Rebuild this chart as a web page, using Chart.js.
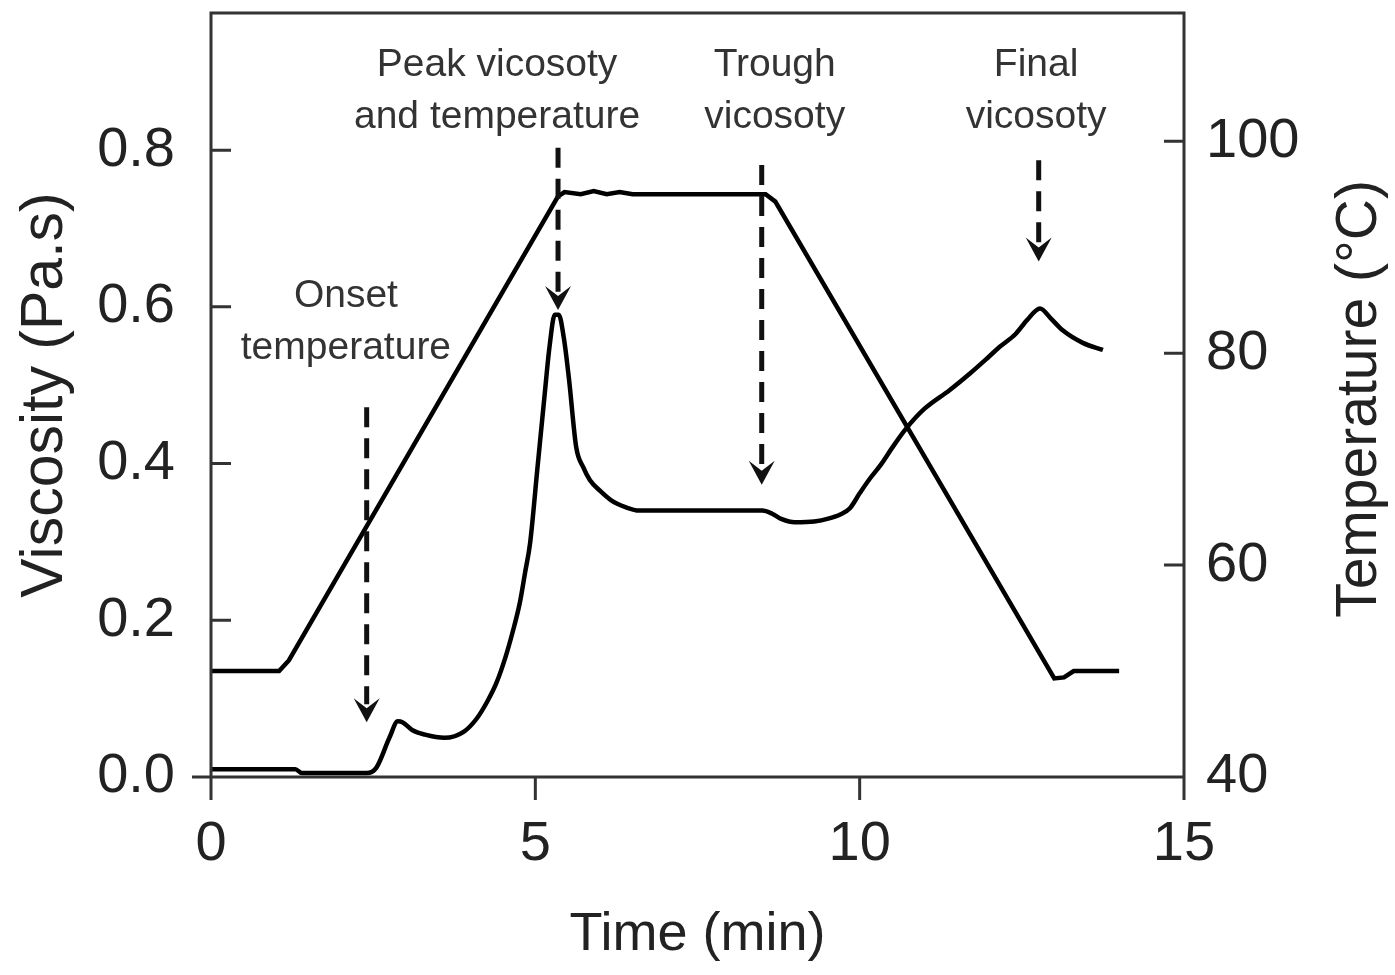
<!DOCTYPE html>
<html>
<head>
<meta charset="utf-8">
<script src="https://cdn.jsdelivr.net/npm/chart.js@4.4.1/dist/chart.umd.min.js"></script>
<style>
  html, body { margin: 0; padding: 0; background: #fff; }
  #wrap { width: 1395px; height: 975px; }
</style>
</head>
<body>
<div id="wrap"><canvas id="myChart"></canvas></div>
<script>
// viscosity curve (Pa.s) against time (min)
let timeV = [0, 1.3, 1.4, 2.4, 2.55, 2.75, 2.88, 2.95, 3.1, 3.3, 3.6, 3.9, 4.1, 4.27, 4.4, 4.54, 4.65, 4.76, 4.84, 4.92, 5.03, 5.14, 5.22, 5.3, 5.36, 5.44, 5.52, 5.63, 5.74, 5.84, 6.0, 6.17, 6.4, 6.6, 7.5, 8.5, 8.65, 8.8, 9.0, 9.3, 9.53, 9.7, 9.85, 10.0, 10.15, 10.33, 10.5, 10.7, 11.0, 11.39, 11.7, 12.0, 12.16, 12.4, 12.58, 12.78, 12.95, 13.13, 13.44, 13.75];
let viscosity = [0.010, 0.010, 0.005, 0.005, 0.012, 0.050, 0.071, 0.070, 0.060, 0.054, 0.050, 0.058, 0.075, 0.098, 0.120, 0.153, 0.185, 0.222, 0.260, 0.299, 0.392, 0.485, 0.550, 0.590, 0.590, 0.560, 0.507, 0.421, 0.395, 0.379, 0.365, 0.353, 0.344, 0.340, 0.340, 0.340, 0.336, 0.329, 0.325, 0.326, 0.330, 0.335, 0.343, 0.362, 0.380, 0.399, 0.420, 0.443, 0.470, 0.494, 0.515, 0.537, 0.549, 0.565, 0.583, 0.598, 0.585, 0.570, 0.554, 0.545];

// temperature profile (°C) against time (min)
let timeT = [0, 1.05, 1.2, 5.35, 5.45, 5.7, 5.9, 6.1, 6.3, 6.5, 8.55, 8.7, 13.0, 13.15, 13.3, 14.0];
let temperature = [50, 50, 51, 94.8, 95.2, 95.0, 95.3, 95.0, 95.2, 95.0, 95.0, 94.3, 49.3, 49.4, 50, 50];

let timeTicks = [0, 5, 10, 15];
let viscTicks = [0, 0.2, 0.4, 0.6, 0.8];
let tempTicks = [40, 60, 80, 100];

// annotations, in data units (time, viscosity)
let noteText = [["Onset", "temperature"], ["Peak vicosoty", "and temperature"], ["Trough", "vicosoty"], ["Final", "vicosoty"]];
let noteTime = [2.08, 4.41, 8.69, 12.72];
let noteVisc = [0.58, 0.875, 0.875, 0.875];
let arrowTime = [2.40, 5.35, 8.49, 12.76];
let arrowFrom = [0.472, 0.803, 0.781, 0.787];
let arrowTo = [0.070, 0.596, 0.373, 0.658];

const FONT = "'Liberation Sans', Arial, sans-serif";

const extras = {
  id: 'extras',
  afterDraw(chart) {
    const ctx = chart.ctx;
    const a = chart.chartArea;
    const x = chart.scales.x, y = chart.scales.y, y1 = chart.scales.y1;
    ctx.save();

    // frame, ticks
    ctx.strokeStyle = '#333';
    ctx.lineWidth = 3;
    ctx.beginPath();
    ctx.rect(a.left, a.top, a.right - a.left, a.bottom - a.top);
    ctx.moveTo(a.left - 19, a.bottom); ctx.lineTo(a.left, a.bottom);
    viscTicks.forEach(v => {
      const p = y.getPixelForValue(v);
      ctx.moveTo(a.left, p); ctx.lineTo(a.left + 20, p);
    });
    tempTicks.forEach(v => {
      const p = y1.getPixelForValue(v);
      ctx.moveTo(a.right, p); ctx.lineTo(a.right - 20, p);
    });
    timeTicks.forEach(v => {
      const p = x.getPixelForValue(v);
      ctx.moveTo(p, a.bottom); ctx.lineTo(p, a.bottom + 23);
    });
    ctx.stroke();

    // dashed arrows
    ctx.strokeStyle = '#111';
    ctx.fillStyle = '#111';
    ctx.lineWidth = 5;
    arrowTime.forEach((t, i) => {
      const px = x.getPixelForValue(t);
      const top = y.getPixelForValue(arrowFrom[i]);
      const tip = y.getPixelForValue(arrowTo[i]);
      ctx.setLineDash([20, 11]);
      ctx.beginPath();
      ctx.moveTo(px, top); ctx.lineTo(px, tip - 18);
      ctx.stroke();
      ctx.setLineDash([]);
      ctx.beginPath();
      ctx.moveTo(px - 13, tip - 24);
      ctx.lineTo(px, tip - 14);
      ctx.lineTo(px + 13, tip - 24);
      ctx.lineTo(px, tip);
      ctx.closePath();
      ctx.fill();
    });

    // annotation text
    ctx.fillStyle = '#333';
    ctx.font = '39px ' + FONT;
    ctx.textAlign = 'center';
    ctx.textBaseline = 'middle';
    noteText.forEach((lines, i) => {
      const px = x.getPixelForValue(noteTime[i]);
      const py = y.getPixelForValue(noteVisc[i]);
      ctx.fillText(lines[0], px, py - 26);
      ctx.fillText(lines[1], px, py + 26);
    });

    // right axis title, reading bottom to top
    ctx.fillStyle = '#222';
    ctx.font = '57px ' + FONT;
    ctx.translate(1360, (a.top + a.bottom) / 2 + 4);
    ctx.rotate(-Math.PI / 2);
    ctx.fillText('Temperature (\u00B0C)', 0, 0);
    ctx.restore();
  }
};

function fixWidth(s) {
  s.width = 211;
  s.paddingTop = 0;
  s.paddingBottom = 0;
}

new Chart("myChart", {
  type: "line",
  data: {
    datasets: [{
      label: "Viscosity",
      yAxisID: "y",
      data: timeV.map((t, i) => ({x: t, y: viscosity[i]})),
      borderColor: "#000",
      borderWidth: 4.5,
      pointRadius: 0,
      cubicInterpolationMode: "monotone"
    }, {
      label: "Temperature",
      yAxisID: "y1",
      data: timeT.map((t, i) => ({x: t, y: temperature[i]})),
      borderColor: "#000",
      borderWidth: 4.5,
      pointRadius: 0,
      tension: 0
    }]
  },
  options: {
    responsive: true,
    maintainAspectRatio: false,
    animation: false,
    layout: {padding: {top: 13, left: 0, right: 0, bottom: 0}},
    plugins: {legend: {display: false}, tooltip: {enabled: false}},
    scales: {
      x: {
        type: "linear",
        min: 0, max: 15,
        afterBuildTicks: s => { s.ticks = timeTicks.map(v => ({value: v})); },
        afterFit: s => { s.height = 198; s.paddingLeft = 0; s.paddingRight = 0; },
        grid: {display: false, drawTicks: false},
        border: {display: false},
        ticks: {font: {size: 56, family: FONT}, color: "#222", padding: 34, maxRotation: 0},
        title: {display: true, text: "Time (min)", font: {size: 54, family: FONT}, color: "#222", padding: {top: 0, bottom: 7}}
      },
      y: {
        position: "left",
        min: 0, max: 0.975,
        afterBuildTicks: s => { s.ticks = viscTicks.map(v => ({value: v})); },
        afterFit: fixWidth,
        grid: {display: false, drawTicks: false},
        border: {display: false},
        ticks: {font: {size: 56, family: FONT}, color: "#222", padding: 36, callback: v => v.toFixed(1)},
        title: {display: true, text: "Viscosity (Pa.s)", font: {size: 59, family: FONT}, color: "#222", padding: {top: 10, bottom: 0}}
      },
      y1: {
        position: "right",
        min: 40, max: 112.1,
        afterBuildTicks: s => { s.ticks = tempTicks.map(v => ({value: v})); },
        afterFit: fixWidth,
        grid: {display: false, drawTicks: false},
        border: {display: false},
        ticks: {font: {size: 56, family: FONT}, color: "#222", padding: 22}
      }
    }
  },
  plugins: [extras]
});
</script>
</body>
</html>
